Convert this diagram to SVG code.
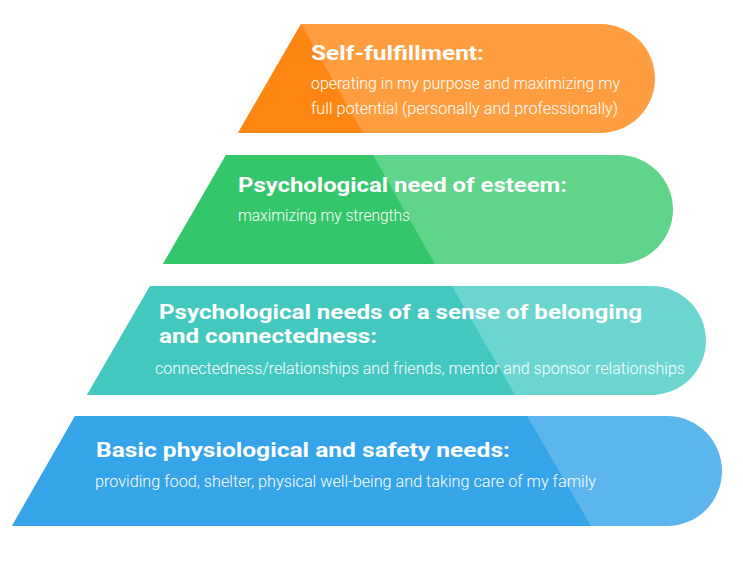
<svg xmlns="http://www.w3.org/2000/svg" width="743" height="565" viewBox="0 0 743 565">
<style>
.t{font-family:Roboto,"Liberation Sans",sans-serif;font-weight:700;font-size:20.5px;fill:#fff}
.b{font-family:Roboto,"Liberation Sans",sans-serif;font-weight:300;font-size:16.5px;fill:#fff}
</style>
<rect width="743" height="565" fill="#fff"/>
<g id="self-fulfillment">
<path d="M301,24 H600.5 A54.5,54.5 0 0 1 600.5,133 H238 Z" fill="#FF9E40"/>
<path d="M301,24 L363,133 H238 Z" fill="#FE8612"/>
<text class="t" x="311" y="60" textLength="173" lengthAdjust="spacingAndGlyphs">Self-fulfillment:</text>
<text class="b" x="311" y="89" textLength="309" lengthAdjust="spacingAndGlyphs">operating in my purpose and maximizing my</text>
<text class="b" x="311" y="114" textLength="307" lengthAdjust="spacingAndGlyphs">full potential (personally and professionally)</text>
</g>
<g id="esteem">
<path d="M226,155 H618.5 A54.5,54.5 0 0 1 618.5,264 H163 Z" fill="#5FD48A"/>
<path d="M226,155 H373 L435,264 H163 Z" fill="#34C66B"/>
<text class="t" x="238" y="192" textLength="329" lengthAdjust="spacingAndGlyphs">Psychological need of esteem:</text>
<text class="b" x="238" y="221" textLength="172" lengthAdjust="spacingAndGlyphs">maximizing my strengths</text>
</g>
<g id="belonging">
<path d="M150,286 H651.5 A54.5,54.5 0 0 1 651.5,395 H87 Z" fill="#6BD6D0"/>
<path d="M150,286 H452 L515,395 H87 Z" fill="#43C8C0"/>
<text class="t" x="159" y="319" textLength="483" lengthAdjust="spacingAndGlyphs">Psychological needs of a sense of belonging</text>
<text class="t" x="159" y="343" textLength="218" lengthAdjust="spacingAndGlyphs">and connectedness:</text>
<text class="b" x="155" y="374" textLength="530" lengthAdjust="spacingAndGlyphs">connectedness/relationships and friends, mentor and sponsor relationships</text>
</g>
<g id="basic">
<path d="M75,416 H667 A55,55 0 0 1 667,526 H12 Z" fill="#5CB5EC"/>
<path d="M75,416 H527 L591,526 H12 Z" fill="#36A4E8"/>
<text class="t" x="96" y="457" textLength="414" lengthAdjust="spacingAndGlyphs">Basic physiological and safety needs:</text>
<text class="b" x="95" y="487" textLength="501" lengthAdjust="spacingAndGlyphs">providing food, shelter, physical well-being and taking care of my family</text>
</g>
<g id="connectors"></g>
</svg>
